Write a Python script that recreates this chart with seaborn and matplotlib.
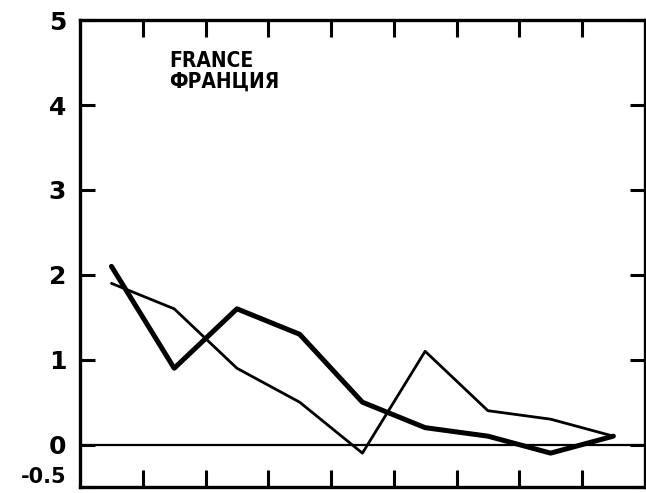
import numpy as np
import pandas as pd
import matplotlib
matplotlib.use("Agg")
import matplotlib.pyplot as plt
import seaborn as sns

# ==========================================
# DATA
# ==========================================

period = [0.5, 1.5, 2.5, 3.5, 4.5, 5.5, 6.5, 7.5, 8.5]
thick_series = [2.1, 0.9, 1.6, 1.3, 0.5, 0.2, 0.1, -0.1, 0.1]
thin_series = [1.9, 1.6, 0.9, 0.5, -0.1, 1.1, 0.4, 0.3, 0.1]

ytick_vals = [5, 4, 3, 2, 1, 0, -0.5]
ytick_text = ["5", "4", "3", "2", "1", "0", "-0.5"]
xtick_vals = [1, 2, 3, 4, 5, 6, 7, 8]

df = pd.DataFrame({
    "period": period * 2,
    "value": thick_series + thin_series,
    "series": ["thick"] * len(period) + ["thin"] * len(period)
})

# ==========================================
# PLOT
# ==========================================

sns.set_style("white")
plt.rcParams["font.family"] = ["DejaVu Sans"]
plt.rcParams["text.color"] = "black"
plt.rcParams["xtick.color"] = "black"
plt.rcParams["ytick.color"] = "black"

fig = plt.figure(figsize=(6.46, 4.93), dpi=100)
ax = fig.add_axes([0.124, 0.012, 0.874, 0.947])

sns.lineplot(
    data=df[df["series"] == "thick"],
    x="period",
    y="value",
    color="black",
    linewidth=3.6,
    ax=ax
)

sns.lineplot(
    data=df[df["series"] == "thin"],
    x="period",
    y="value",
    color="black",
    linewidth=2.0,
    ax=ax
)

ax.axhline(0, color="black", linewidth=1.6)

ax.set_xlim(0, 9)
ax.set_ylim(-0.5, 5)

ax.set_xticks(xtick_vals)
ax.set_xticklabels([])
ax.set_yticks(ytick_vals)
ax.set_yticklabels(ytick_text, fontsize=18, fontweight="bold", color="black")

# last label sits on the bottom edge, lift it so it is not clipped
ax.get_yticklabels()[-1].set_verticalalignment("bottom")
ax.get_yticklabels()[-1].set_fontsize(15)

ax.tick_params(
    axis="both",
    direction="in",
    length=11,
    width=2.2,
    color="black",
    top=True,
    right=True,
    left=True,
    bottom=True,
    pad=10
)
ax.tick_params(axis="x", length=12)

for side in ["left", "right", "top", "bottom"]:
    ax.spines[side].set_visible(True)
    ax.spines[side].set_color("black")
    ax.spines[side].set_linewidth(2.4)

ax.set_xlabel("")
ax.set_ylabel("")

ax.text(
    1.42, 4.64,
    "FRANCE\nФРАНЦИЯ",
    fontsize=15,
    fontweight="bold",
    fontstretch="condensed",
    family=["DejaVu Sans Condensed", "DejaVu Sans"],
    color="black",
    va="top",
    ha="left",
    linespacing=1.05
)

fig.savefig("out.png", dpi=100)
